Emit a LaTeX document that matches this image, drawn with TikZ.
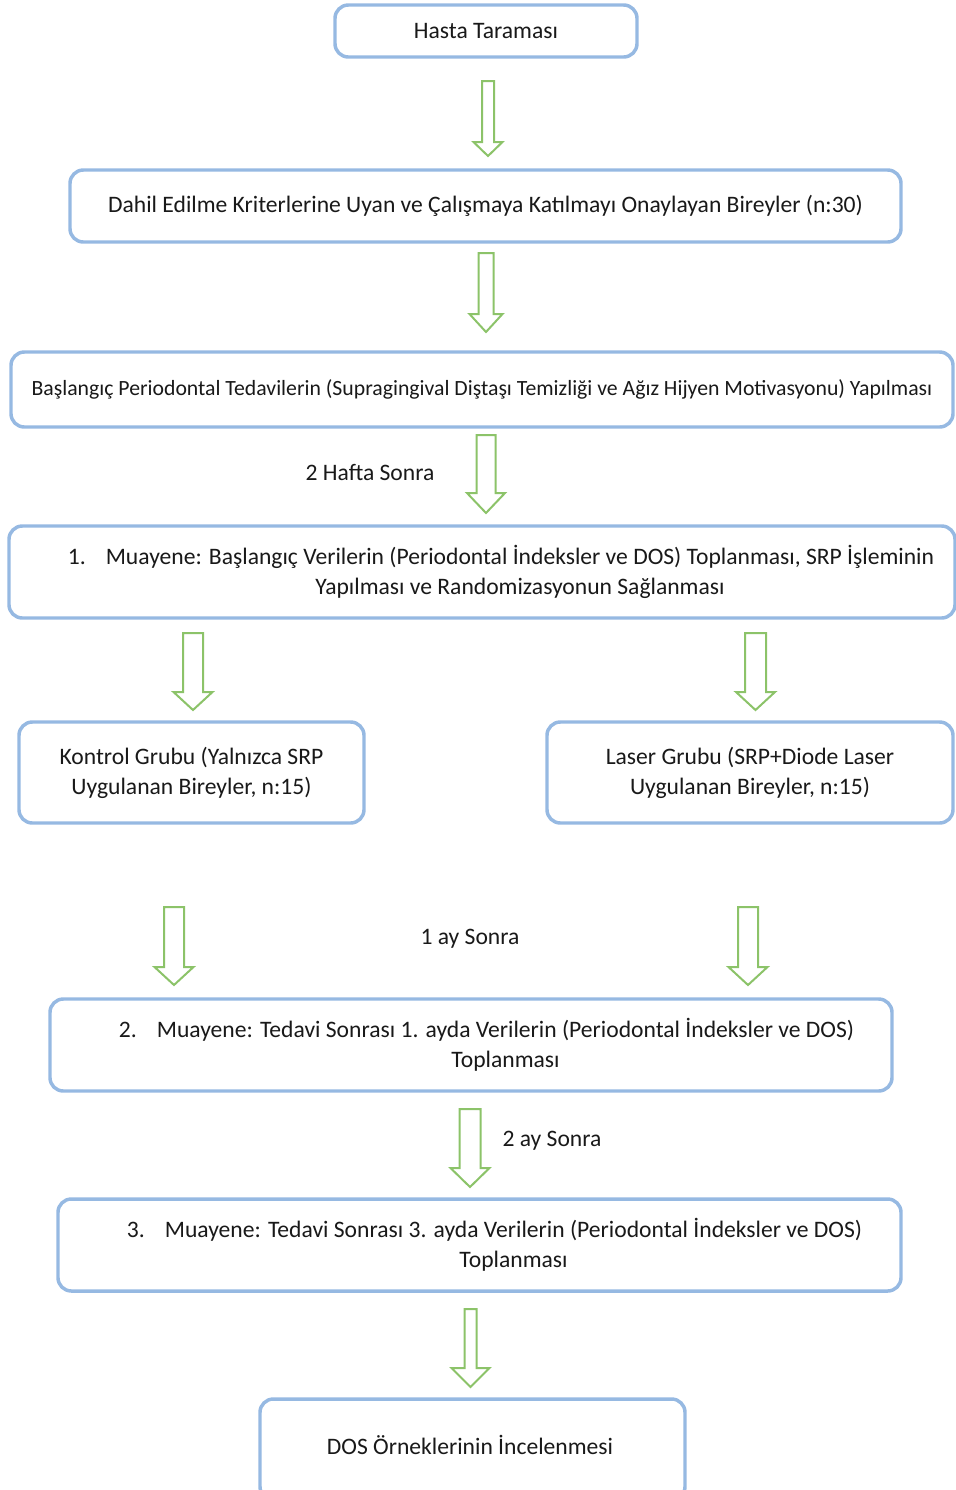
\documentclass[tikz,border=0pt]{standalone}
\usepackage{fontspec}
\setmainfont{Carlito}
\definecolor{kenar}{RGB}{150,185,226}
\definecolor{okyesil}{RGB}{140,195,105}
\tikzset{
  kutu/.style={draw=kenar, line width=2.6pt, rounded corners=10pt, fill=white, inner sep=0pt},
  boyut/.style 2 args={minimum width=#1*0.75pt, minimum height=#2*0.75pt},
  yazi/.style={font=\fontsize{17.7}{22.5}\selectfont, text=black!90, align=center, inner sep=0pt},
  okstil/.style={draw=okyesil, line width=1.5pt, line join=miter, fill=white}
}
% hollow down arrow: x, top, tip, shaft half width, head half width, head length
\newcommand{\blokok}[6]{%
  \draw[okstil] (#1-#4,#2) -- (#1+#4,#2) -- (#1+#4,#3-#6) -- (#1+#5,#3-#6)
    -- (#1,#3) -- (#1-#5,#3-#6) -- (#1-#4,#3-#6) -- cycle;
}
\begin{document}
\begin{tikzpicture}[x=0.75pt,y=-0.75pt]
    \useasboundingbox (0,0) rectangle (956,1490);
    \clip (0,0) rectangle (956,1490);
    % boxes
    \node [kutu,yazi,boyut={302}{52}] (tarama) at (486,31) {Hasta Taraması};
    \node [kutu,yazi,boyut={831}{72}] (dahil) at (485.5,206)
        {Dahil Edilme Kriterlerine Uyan ve Çalışmaya Katılmayı Onaylayan Bireyler (n:30)};
    \node [kutu,yazi,boyut={942}{75},font=\fontsize{16.3}{20}\selectfont] (baslangic) at (482,389.5)
        {Başlangıç Periodontal Tedavilerin (Supragingival Diştaşı Temizliği ve Ağız Hijyen Motivasyonu) Yapılması};
    \node [kutu,boyut={946}{92}] (muayene1) at (482,572) {};
    \node [yazi] (muayene1yazi) at (520,572)
        {\llap{1.\hspace{15pt}}Muayene: Başlangıç Verilerin (Periodontal İndeksler ve DOS) Toplanması, SRP İşleminin\\
         Yapılması ve Randomizasyonun Sağlanması};
    \node [kutu,yazi,boyut={345}{101}] (kontrol) at (191.5,772.5)
        {Kontrol Grubu (Yalnızca SRP\\Uygulanan Bireyler, n:15)};
    \node [kutu,yazi,boyut={406}{101}] (laser) at (750,772.5)
        {Laser Grubu (SRP+Diode Laser\\Uygulanan Bireyler, n:15)};
    \node [kutu,boyut={842}{92}] (muayene2) at (471,1045) {};
    \node [yazi] (muayene2yazi) at (505.5,1045)
        {\llap{2.\hspace{15pt}}Muayene: Tedavi Sonrası 1. ayda Verilerin (Periodontal İndeksler ve DOS)\\Toplanması};
    \node [kutu,boyut={843}{92}] (muayene3) at (479.5,1245) {};
    \node [yazi] (muayene3yazi) at (513.5,1245)
        {\llap{3.\hspace{15pt}}Muayene: Tedavi Sonrası 3. ayda Verilerin (Periodontal İndeksler ve DOS)\\Toplanması};
    \node [kutu,boyut={425}{101}] (dos) at (472.5,1449.5) {};
    \node [yazi] (dosyazi) at (470,1445) {DOS Örneklerinin İncelenmesi};
    % arrows
    \blokok{488}{81}{156}{6}{14.5}{14}
    \blokok{486}{253}{332}{7.5}{16.5}{18}
    \blokok{486}{435}{513}{9.5}{19}{20}
    \blokok{193}{633}{710}{10}{19.5}{18}
    \blokok{755.5}{633}{710}{10.5}{19.5}{18}
    \blokok{174}{907}{985}{10}{19.5}{18}
    \blokok{748}{907}{985}{10}{19.5}{18}
    \blokok{470}{1109}{1187}{10.5}{19.5}{19}
    \blokok{470.5}{1309}{1387}{6}{19}{19}
    % labels
    \node [yazi] (hafta) at (370,472) {2 Hafta Sonra};
    \node [yazi] (biray) at (470,939) {1 ay Sonra};
    \node [yazi] (ikiay) at (552,1141) {2 ay Sonra};
\end{tikzpicture}
\end{document}
